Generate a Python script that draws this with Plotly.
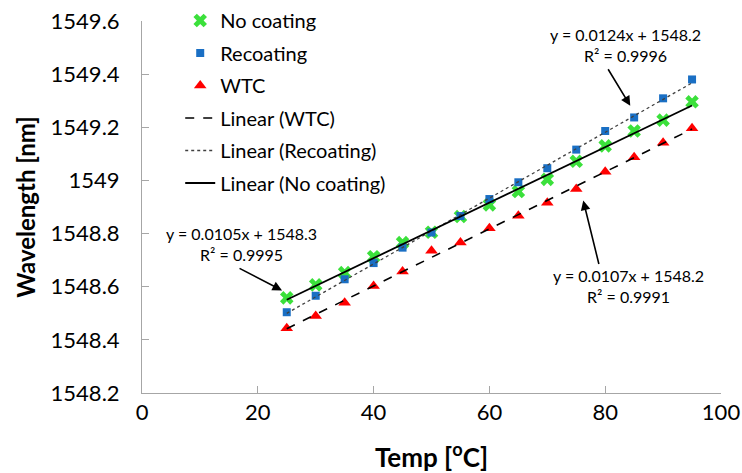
import numpy as np
import plotly.graph_objects as go

# ---------------- data ----------------
temp = [25, 30, 35, 40, 45, 50, 55, 60, 65, 70, 75, 80, 85, 90, 95]
no_coating = [1548.558, 1548.607, 1548.653, 1548.713, 1548.766, 1548.805, 1548.864,
              1548.908, 1548.958, 1549.004, 1549.072, 1549.130, 1549.186, 1549.227, 1549.296]
recoating = [1548.504, 1548.566, 1548.628, 1548.689, 1548.747, 1548.804, 1548.866,
             1548.930, 1548.993, 1549.046, 1549.116, 1549.186, 1549.237, 1549.309, 1549.380]
wtc = [1548.444, 1548.490, 1548.540, 1548.603, 1548.657, 1548.735, 1548.766,
       1548.820, 1548.867, 1548.916, 1548.968, 1549.033, 1549.087, 1549.142, 1549.196]

x_ticks = [0, 20, 40, 60, 80, 100]
y_ticks = [1548.2, 1548.4, 1548.6, 1548.8, 1549.0, 1549.2, 1549.4, 1549.6]
y_tick_labels = ["1548.2", "1548.4", "1548.6", "1548.8", "1549", "1549.2", "1549.4", "1549.6"]

eq_recoating = "y = 0.0124x + 1548.2<br>R² = 0.9996"
eq_no_coating = "y = 0.0105x + 1548.3<br>R² = 0.9995"
eq_wtc = "y = 0.0107x + 1548.2<br>R² = 0.9991"

FONT = "Lato, 'Open Sans', sans-serif"
AXIS_GRAY = "#A6A6A6"

fig = go.Figure()

fig.add_trace(go.Scatter(x=temp, y=no_coating, mode="markers", name="No coating", legendgroup="g1",
                         marker=dict(symbol="x", size=12, color="#3BE03B", line=dict(width=0))))
fig.add_trace(go.Scatter(x=temp, y=recoating, mode="markers", name="Recoating", legendgroup="g2",
                         marker=dict(symbol="square", size=8, color="#1A6FC4", line=dict(width=0))))
fig.add_trace(go.Scatter(x=temp, y=wtc, mode="markers", name="WTC", legendgroup="g3",
                         marker=dict(symbol="triangle-up", size=11, color="#FF0000", line=dict(width=0))))


def fit_line(xs, ys):
    slope, intercept = np.polyfit(xs, ys, 1)
    xe = [min(xs), max(xs)]
    return xe, [slope * v + intercept for v in xe]


fx, fy = fit_line(temp, wtc)
fig.add_trace(go.Scatter(x=fx, y=fy, mode="lines", name="Linear (WTC)", legendgroup="g4",
                         line=dict(color="black", width=1.6, dash="dash")))
fx, fy = fit_line(temp, recoating)
fig.add_trace(go.Scatter(x=fx, y=fy, mode="lines", name="Linear (Recoating)", legendgroup="g5",
                         line=dict(color="#404040", width=1.3, dash="dot")))
fx, fy = fit_line(temp, no_coating)
fig.add_trace(go.Scatter(x=fx, y=fy, mode="lines", name="Linear (No coating)", legendgroup="g6",
                         line=dict(color="black", width=1.8)))

# equation labels
for txt, xx, yy in [(eq_recoating, 83.5, 1549.510),
                    (eq_no_coating, 17.1, 1548.759),
                    (eq_wtc, 84.0, 1548.601)]:
    fig.add_annotation(x=xx, y=yy, xref="x", yref="y", text=txt, showarrow=False,
                       font=dict(family=FONT, size=16, color="black"), align="center")

# arrows (tail -> head)
for (tx, ty, hx, hy) in [(80.35, 1549.424, 84.33, 1549.281),
                         (16.59, 1548.672, 24.19, 1548.586),
                         (78.97, 1548.680, 76.21, 1548.924)]:
    fig.add_annotation(x=hx, y=hy, ax=tx, ay=ty, xref="x", yref="y", axref="x", ayref="y",
                       text="", showarrow=True, arrowhead=2, arrowsize=1.2, arrowwidth=1.6,
                       arrowcolor="black", standoff=0, startstandoff=0)

fig.update_layout(
    width=742, height=473, autosize=False,
    margin=dict(l=142, r=21, t=21, b=80, autoexpand=False),
    paper_bgcolor="white", plot_bgcolor="white",
    font=dict(family=FONT, size=22, color="black"),
    showlegend=True,
    legend=dict(x=0.066, y=1.0 - 1 / 473, xref="paper", yref="container",
                xanchor="left", yanchor="top",
                font=dict(family=FONT, size=20, color="black"),
                bgcolor="rgba(0,0,0,0)", itemwidth=30, tracegroupgap=3.5),
    xaxis=dict(range=[0, 100], tickvals=x_ticks, ticks="inside", ticklen=7,
               tickcolor=AXIS_GRAY, showline=True, linecolor=AXIS_GRAY, linewidth=1,
               showgrid=False, zeroline=False, tickfont=dict(size=22),
               title=dict(text="<b>Temp [<sup>o</sup>C]</b>", font=dict(size=26), standoff=24)),
    yaxis=dict(range=[1548.2, 1549.6], tickvals=y_ticks, ticktext=y_tick_labels,
               ticks="inside", ticklen=7, tickcolor=AXIS_GRAY, showline=True,
               linecolor=AXIS_GRAY, linewidth=1, showgrid=False, zeroline=False,
               tickfont=dict(size=22), ticklabelstandoff=17,
               title=dict(text="<b>Wavelength [nm]</b>", font=dict(size=24), standoff=8)),
)

fig.write_html("out.html", config={"displayModeBar": False},
               post_script="document.body.style.margin='0';")
